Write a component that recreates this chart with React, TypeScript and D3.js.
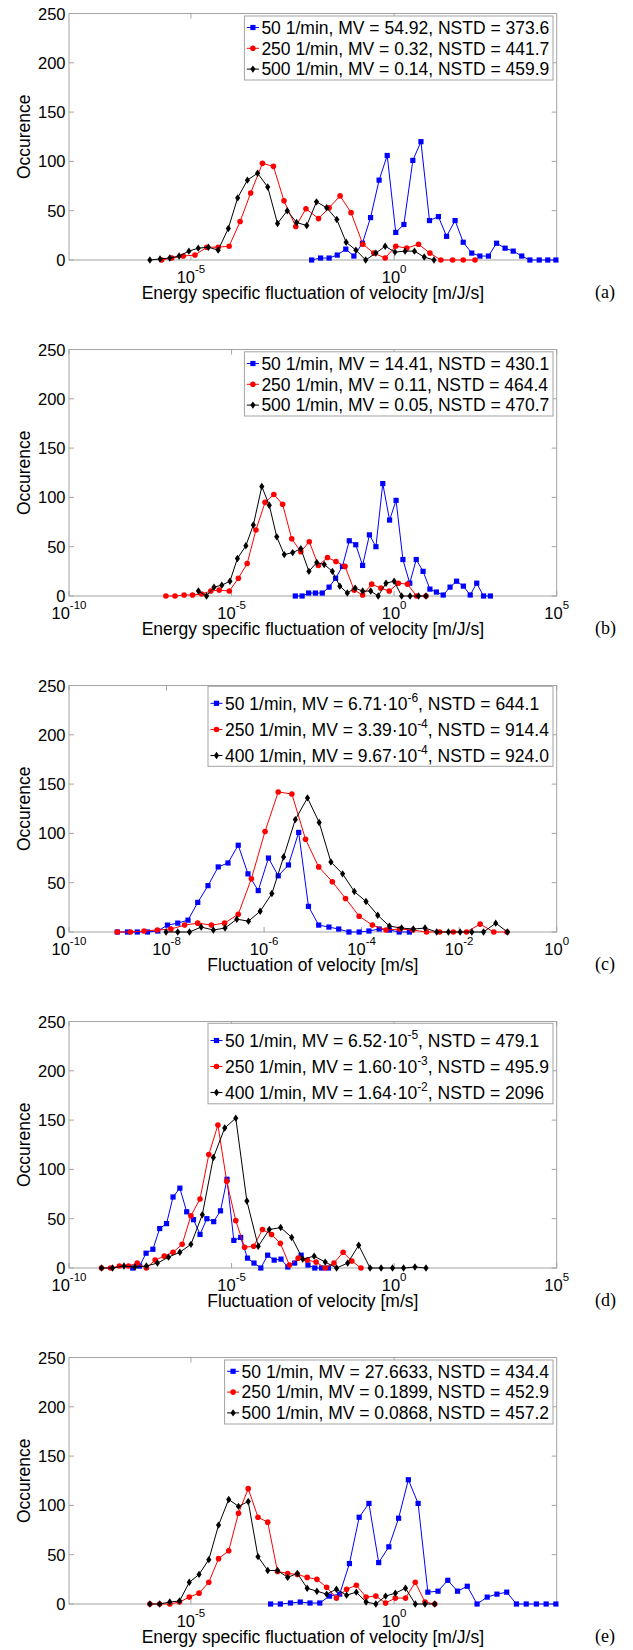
import React from 'react';
import * as d3 from 'd3';

// ---------- data (x stored as log10 of the abscissa) ----------
// Panel (a)
const aBlueLogX = [-2.03,-1.81,-1.60,-1.40,-1.19,-0.99,-0.78,-0.58,-0.37,-0.17,0.04,0.24,0.46,0.66,0.87,1.09,1.29,1.50,1.70,1.91,2.11,2.32,2.52,2.73,2.93,3.14,3.34,3.57,3.78,3.98];
const aBlueY = [0,2,2,5,11,4,17,43,81,106,28,36,101,120,40,44,24,40,18,7,4,4,17,12,9,4,0,0,0,0];
const aRedLogX = [-5.72,-5.47,-5.19,-4.90,-4.61,-4.33,-4.06,-3.79,-3.53,-3.24,-2.97,-2.71,-2.42,-2.17,-1.86,-1.60,-1.33,-1.06,-0.77,-0.50,-0.22,0.04,0.31,0.60,0.88,1.15,1.44,1.70,1.99];
const aRedY = [0,2,4,5,13,13,14,39,68,98,95,60,34,52,42,53,65,48,16,7,2,14,12,16,7,0,0,0,0];
const aBlackLogX = [-6.01,-5.76,-5.52,-5.29,-5.05,-4.82,-4.57,-4.33,-4.08,-3.85,-3.61,-3.36,-3.11,-2.87,-2.63,-2.40,-2.15,-1.91,-1.66,-1.41,-1.18,-0.94,-0.70,-0.45,-0.22,0.02,0.27,0.50,0.74,0.98];
const aBlackY = [0,1,2,4,9,12,13,10,32,63,81,88,74,37,50,38,35,59,53,41,18,10,0,7,14,8,9,9,3,0];

// Panel (b)
const bBlueLogX = [-3.04,-2.83,-2.63,-2.42,-2.21,-2.00,-1.80,-1.59,-1.38,-1.18,-0.97,-0.76,-0.56,-0.35,-0.14,0.06,0.27,0.48,0.68,0.89,1.10,1.30,1.51,1.72,1.92,2.13,2.34,2.54,2.75,2.96];
const bBlueY = [0,0,3,3,3,9,18,30,56,52,31,62,50,114,77,97,37,13,37,25,7,4,1,9,15,10,1,13,0,0];
const bRedLogX = [-7.02,-6.74,-6.46,-6.20,-5.92,-5.64,-5.38,-5.07,-4.79,-4.52,-4.25,-3.97,-3.70,-3.43,-3.15,-2.87,-2.61,-2.33,-2.05,-1.79,-1.51,-1.23,-0.97,-0.69,-0.41,-0.15,0.13,0.41,0.69,0.98];
const bRedY = [0,0,1,1,2,5,6,5,18,33,67,95,103,93,58,45,55,31,39,35,30,6,1,12,8,5,13,12,0,0];
const bBlackLogX = [-6.02,-5.77,-5.54,-5.30,-5.05,-4.82,-4.56,-4.33,-4.07,-3.84,-3.61,-3.38,-3.12,-2.87,-2.62,-2.38,-2.15,-1.90,-1.67,-1.44,-1.20,-0.97,-0.72,-0.49,-0.25,0.00,0.23,0.49,0.75,0.98];
const bBlackY = [5,0,9,11,15,38,51,72,111,92,60,42,44,48,25,34,32,25,10,3,8,5,5,0,13,15,0,0,0,0];

// Panel (c)
const cBlueLogX = [-9.01,-8.80,-8.60,-8.39,-8.18,-7.98,-7.77,-7.56,-7.36,-7.15,-6.94,-6.74,-6.53,-6.33,-6.12,-5.91,-5.71,-5.50,-5.29,-5.09,-4.88,-4.67,-4.47,-4.26,-4.05,-3.85,-3.64,-3.43,-3.23,-3.02];
const cBlueY = [0,0,0,0,1,7,9,12,30,47,66,70,88,59,42,75,57,68,101,26,7,5,3,0,0,1,3,2,0,0];
const cRedLogX = [-9.01,-8.74,-8.46,-8.19,-7.91,-7.63,-7.36,-7.08,-6.81,-6.53,-6.26,-5.98,-5.71,-5.43,-5.15,-4.88,-4.60,-4.33,-4.05,-3.78,-3.50,-3.22,-2.95,-2.67,-2.40,-2.12,-1.85,-1.57,-1.29,-1.02];
const cRedY = [0,0,1,2,3,7,9,7,9,18,54,102,142,140,94,66,51,34,16,7,2,3,2,0,0,0,0,8,0,0];
const cBlackLogX = [-8.01,-7.77,-7.53,-7.29,-7.04,-6.80,-6.56,-6.32,-6.08,-5.84,-5.60,-5.36,-5.11,-4.87,-4.63,-4.39,-4.15,-3.91,-3.67,-3.43,-3.18,-2.94,-2.70,-2.46,-2.22,-1.98,-1.74,-1.50,-1.25,-1.01];
const cBlackY = [0,0,0,5,2,4,13,11,21,39,76,114,136,111,71,59,41,31,17,6,4,3,4,0,0,0,0,0,9,0];

// Panel (d)
const dBlueLogX = [-8.04,-7.83,-7.63,-7.42,-7.21,-7.00,-6.80,-6.59,-6.38,-6.17,-5.97,-5.76,-5.55,-5.34,-5.14,-4.93,-4.72,-4.51,-4.31,-4.10,-3.89,-3.69,-3.48,-3.27,-3.06,-2.86,-2.65,-2.44,-2.23,-2.02];
const dBlueY = [0,2,15,19,40,45,72,81,57,49,34,50,47,58,90,28,31,10,5,0,13,8,9,1,5,13,3,0,0,0];
const dRedLogX = [-9.00,-8.72,-8.45,-8.17,-7.90,-7.62,-7.35,-7.07,-6.80,-6.52,-6.25,-5.97,-5.70,-5.42,-5.15,-4.87,-4.60,-4.32,-4.05,-3.77,-3.50,-3.22,-2.95,-2.67,-2.40,-2.12,-1.85,-1.57,-1.30,-1.02];
const dRedY = [0,0,2,2,5,0,8,12,16,24,53,70,115,145,88,48,21,22,39,34,25,3,10,8,6,0,5,16,7,0];
const dBlackLogX = [-9.00,-8.66,-8.31,-7.97,-7.62,-7.28,-6.94,-6.59,-6.25,-5.90,-5.56,-5.21,-4.87,-4.53,-4.18,-3.84,-3.49,-3.15,-2.81,-2.46,-2.12,-1.77,-1.43,-1.09,-0.74,-0.40,-0.05,0.29,0.64,0.98];
const dBlackY = [0,0,2,1,2,5,11,16,24,54,112,142,152,68,22,39,41,31,9,12,6,0,5,23,0,0,0,0,1,0];

// Panel (e)
const eBlueLogX = [-3.04,-2.80,-2.55,-2.31,-2.07,-1.83,-1.59,-1.34,-1.10,-0.86,-0.62,-0.38,-0.13,0.11,0.35,0.59,0.83,1.08,1.32,1.56,1.80,2.04,2.29,2.53,2.77,3.01,3.25,3.50,3.74,3.98];
const eBlueY = [0,0,1,2,1,1,8,10,41,88,102,42,58,87,126,102,12,13,24,13,18,0,7,10,12,0,0,0,0,0];
const eRedLogX = [-6.01,-5.77,-5.52,-5.28,-5.04,-4.80,-4.56,-4.32,-4.07,-3.83,-3.59,-3.35,-3.11,-2.87,-2.62,-2.38,-2.14,-1.90,-1.66,-1.42,-1.17,-0.93,-0.69,-0.45,-0.21,0.03,0.28,0.52,0.76,1.00];
const eRedY = [0,0,0,2,7,11,22,46,54,92,117,88,83,33,31,30,27,25,17,6,15,19,7,8,1,6,6,22,2,0];
const eBlackLogX = [-6.01,-5.77,-5.52,-5.28,-5.04,-4.80,-4.56,-4.32,-4.07,-3.83,-3.59,-3.35,-3.11,-2.87,-2.62,-2.38,-2.14,-1.90,-1.66,-1.42,-1.17,-0.93,-0.69,-0.45,-0.21,0.03,0.28,0.52,0.76,1.00];
const eBlackY = [0,0,2,3,22,30,45,80,106,99,104,48,34,34,27,31,16,13,10,15,9,12,2,0,8,11,16,0,0,0];

// ---------- labels ----------
const yTickValues = [0, 50, 100, 150, 200, 250];
const ticksAE = [-5, 0];
const ticksBD = [-10, -5, 0, 5];
const ticksC = [-10, -8, -6, -4, -2, 0];
const energyLabel = 'Energy specific fluctuation of velocity [m/J/s]';
const velocityLabel = 'Fluctuation of velocity [m/s]';
const yLabel = 'Occurence';
// strings starting with ^ are superscripts
const aLegend = [['50 1/min, MV = 54.92, NSTD = 373.6'], ['250 1/min, MV = 0.32, NSTD = 441.7'], ['500 1/min, MV = 0.14, NSTD = 459.9']];
const bLegend = [['50 1/min, MV = 14.41, NSTD = 430.1'], ['250 1/min, MV = 0.11, NSTD = 464.4'], ['500 1/min, MV = 0.05, NSTD = 470.7']];
const cLegend = [['50 1/min, MV = 6.71\u00b710', '^-6', ', NSTD = 644.1'], ['250 1/min, MV = 3.39\u00b710', '^-4', ', NSTD = 914.4'], ['400 1/min, MV = 9.67\u00b710', '^-4', ', NSTD = 924.0']];
const dLegend = [['50 1/min, MV = 6.52\u00b710', '^-5', ', NSTD = 479.1'], ['250 1/min, MV = 1.60\u00b710', '^-3', ', NSTD = 495.9'], ['400 1/min, MV = 1.64\u00b710', '^-2', ', NSTD = 2096']];
const eLegend = [['50 1/min, MV = 27.6633, NSTD = 434.4'], ['250 1/min, MV = 0.1899, NSTD = 452.9'], ['500 1/min, MV = 0.0868, NSTD = 457.2']];

// ---------- layout ----------
const W = 633, H = 1650;
const LEFT = 69, RIGHT = 556.7, PLOT_H = 246.5;
const FONT = "'Liberation Sans', Arial, Helvetica, sans-serif";
const SERIF = "'Liberation Serif', 'Times New Roman', serif";
const FRAME = '#a3a3a3';
const COLORS = { blue: '#0000ff', red: '#ff0000', black: '#000000' };

type Kind = 'blue' | 'red' | 'black';
interface Series { lx: number[]; y: number[]; kind: Kind }
interface Panel {
  tag: string; top: number; domain: [number, number]; ticks: number[]; xLabel: string;
  legend: string[][]; box: { x: number; y: number; h: number; rows: number[] };
  series: Series[];
}

const panels: Panel[] = [
  { tag: '(a)', top: 13.5, domain: [1e-8, 1e4], ticks: ticksAE, xLabel: energyLabel, legend: aLegend,
    box: { x: 244.4, y: 2.5, h: 64, rows: [14, 34.8, 55.6] },
    series: [{ lx: aBlueLogX, y: aBlueY, kind: 'blue' }, { lx: aRedLogX, y: aRedY, kind: 'red' }, { lx: aBlackLogX, y: aBlackY, kind: 'black' }] },
  { tag: '(b)', top: 349.5, domain: [1e-10, 1e5], ticks: ticksBD, xLabel: energyLabel, legend: bLegend,
    box: { x: 244.4, y: 2.3, h: 64.2, rows: [14, 34.8, 55.6] },
    series: [{ lx: bBlueLogX, y: bBlueY, kind: 'blue' }, { lx: bRedLogX, y: bRedY, kind: 'red' }, { lx: bBlackLogX, y: bBlackY, kind: 'black' }] },
  { tag: '(c)', top: 685.5, domain: [1e-10, 1], ticks: ticksC, xLabel: velocityLabel, legend: cLegend,
    box: { x: 208, y: 0.8, h: 80, rows: [17.8, 44, 70] },
    series: [{ lx: cBlueLogX, y: cBlueY, kind: 'blue' }, { lx: cRedLogX, y: cRedY, kind: 'red' }, { lx: cBlackLogX, y: cBlackY, kind: 'black' }] },
  { tag: '(d)', top: 1021.5, domain: [1e-10, 1e5], ticks: ticksBD, xLabel: velocityLabel, legend: dLegend,
    box: { x: 208, y: 1.8, h: 80.5, rows: [19, 45, 71] },
    series: [{ lx: dBlueLogX, y: dBlueY, kind: 'blue' }, { lx: dRedLogX, y: dRedY, kind: 'red' }, { lx: dBlackLogX, y: dBlackY, kind: 'black' }] },
  { tag: '(e)', top: 1357.5, domain: [1e-8, 1e4], ticks: ticksAE, xLabel: energyLabel, legend: eLegend,
    box: { x: 224.6, y: 2.5, h: 64, rows: [13.8, 34.6, 55.4] },
    series: [{ lx: eBlueLogX, y: eBlueY, kind: 'blue' }, { lx: eRedLogX, y: eRedY, kind: 'red' }, { lx: eBlackLogX, y: eBlackY, kind: 'black' }] },
];

const Marker = ({ kind, x, y }: { kind: Kind; x: number; y: number }) => {
  const c = COLORS[kind];
  if (kind === 'blue') return <rect x={x - 2.6} y={y - 2.6} width={5.2} height={5.2} fill={c} />;
  if (kind === 'red') return <circle cx={x} cy={y} r={2.8} fill={c} />;
  return <path d={`M${x},${y - 3.7}L${x + 2.6},${y}L${x},${y + 3.7}L${x - 2.6},${y}Z`} fill={c} />;
};

const PanelView = ({ p }: { p: Panel }) => {
  const bottom = p.top + PLOT_H;
  const xs = d3.scaleLog().domain(p.domain).range([LEFT, RIGHT]);
  const ys = d3.scaleLinear().domain([0, 250]).range([bottom, p.top]);
  const kindsOrder: Kind[] = ['blue', 'red', 'black'];
  return (
    <g>
      {/* frame */}
      <rect x={LEFT} y={p.top} width={RIGHT - LEFT} height={PLOT_H} fill="#fff" stroke={FRAME} strokeWidth={1} />
      {yTickValues.map((v) => (
        <g key={'y' + v}>
          <line x1={LEFT} x2={LEFT + 5} y1={ys(v)} y2={ys(v)} stroke={FRAME} />
          <line x1={RIGHT - 5} x2={RIGHT} y1={ys(v)} y2={ys(v)} stroke={FRAME} />
          <text x={65.5} y={ys(v) + 6} textAnchor="end" fontFamily={FONT} fontSize={16.5} fill="#000">{v}</text>
        </g>
      ))}
      {p.ticks.map((t) => {
        const x = xs(Math.pow(10, t));
        return (
          <g key={'x' + t}>
            <line x1={x} x2={x} y1={bottom} y2={bottom - 5} stroke={FRAME} />
            <line x1={x} x2={x} y1={p.top} y2={p.top + 5} stroke={FRAME} />
            <text x={x} y={bottom + 22.7} textAnchor="middle" fontFamily={FONT} fill="#000">
              <tspan fontSize={16.5}>10</tspan>
              <tspan fontSize={11.5} dy={-9.3}>{String(t)}</tspan>
            </text>
          </g>
        );
      })}
      {/* series */}
      {p.series.map((s) => {
        const pts: [number, number][] = s.lx.map((e, i) => [xs(Math.pow(10, e)), ys(s.y[i])]);
        const path = d3.line()(pts) || '';
        return (
          <g key={s.kind}>
            <path d={path} fill="none" stroke={COLORS[s.kind]} strokeWidth={1} />
            {pts.map((pt, i) => <Marker key={i} kind={s.kind} x={pt[0]} y={pt[1]} />)}
          </g>
        );
      })}
      {/* legend */}
      <rect x={p.box.x} y={p.top + p.box.y} width={553 - p.box.x} height={p.box.h} fill="#fff" stroke={FRAME} strokeWidth={1} />
      {p.legend.map((parts, i) => {
        const cy = p.top + p.box.rows[i];
        const kind = kindsOrder[i];
        return (
          <g key={'lg' + i}>
            <line x1={p.box.x + 2.5} x2={p.box.x + 14.5} y1={cy} y2={cy} stroke={COLORS[kind]} strokeWidth={1} />
            <Marker kind={kind} x={p.box.x + 8.5} y={cy} />
            <text x={p.box.x + 17} y={cy + 6.3} fontFamily={FONT} fontSize={17.5} fill="#000">
              {parts.map((s, j) => {
                if (s.startsWith('^')) return <tspan key={j} fontSize={12} dy={-8}>{s.slice(1)}</tspan>;
                const prevSup = j > 0 && parts[j - 1].startsWith('^');
                return <tspan key={j} dy={prevSup ? 8 : 0}>{s}</tspan>;
              })}
            </text>
          </g>
        );
      })}
      {/* axis labels */}
      <text x={(LEFT + RIGHT) / 2} y={bottom + 39.3} textAnchor="middle" fontFamily={FONT} fontSize={17.5} fill="#000">{p.xLabel}</text>
      <text transform={`translate(29.5,${(p.top + bottom) / 2}) rotate(-90)`} textAnchor="middle" fontFamily={FONT} fontSize={17.5} fill="#000">{yLabel}</text>
      <text x={595} y={bottom + 38.3} fontFamily={SERIF} fontSize={18} fill="#000">{p.tag}</text>
    </g>
  );
};

export default function App() {
  return (
    <svg width={W} height={H} viewBox={`0 0 ${W} ${H}`} style={{ position: 'absolute', left: 0, top: 0, display: 'block', background: '#fff' }}>
      <rect x={0} y={0} width={W} height={H} fill="#fff" />
      {panels.map((p) => <PanelView key={p.tag} p={p} />)}
    </svg>
  );
}
